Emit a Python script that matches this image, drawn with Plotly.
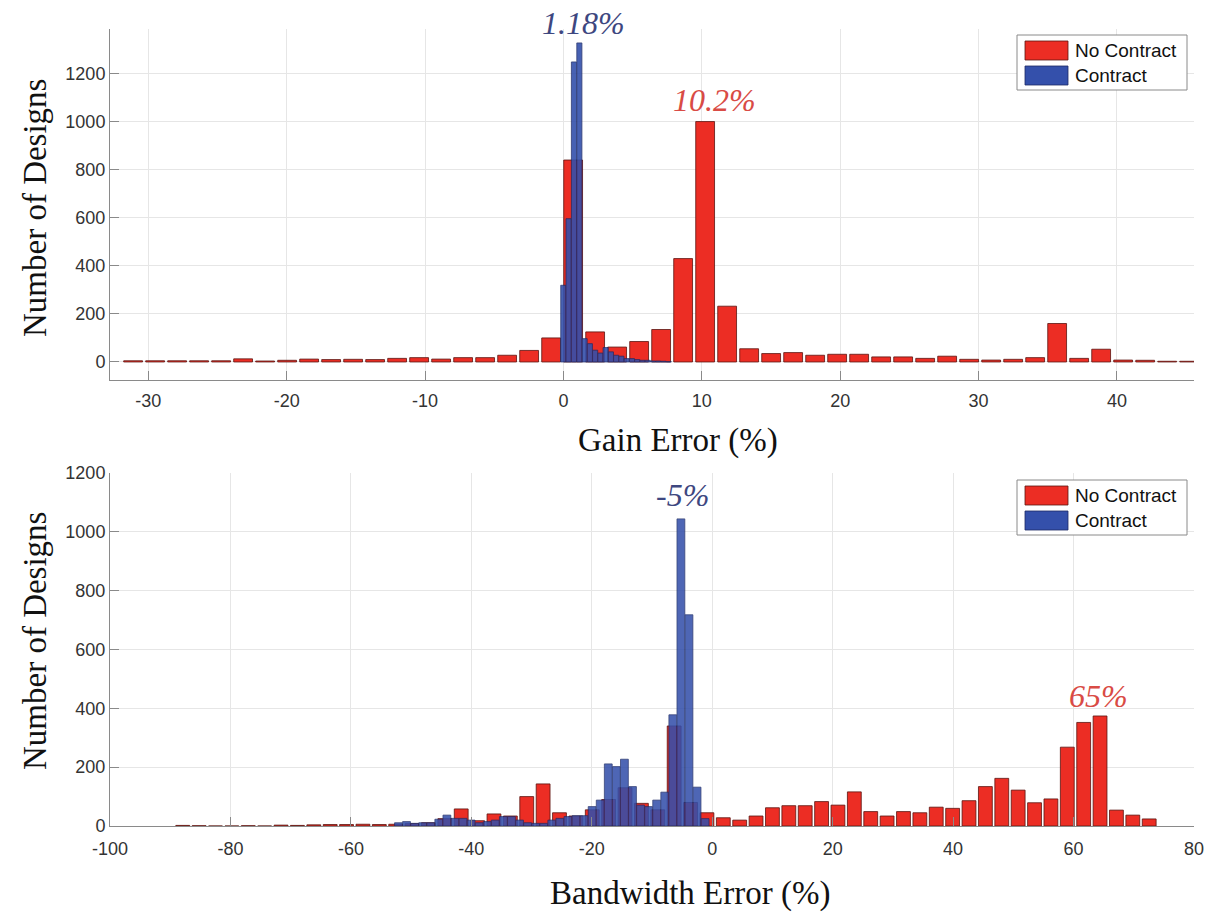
import plotly.graph_objects as go

# ---------------- data ----------------
gain_bins_no_contract = [-31.10, -29.51, -27.92, -26.33, -24.74, -23.15, -21.56, -19.97, -18.38, -16.79,
                         -15.20, -13.61, -12.02, -10.43, -8.84, -7.25, -5.66, -4.07, -2.48, -0.89,
                         0.70, 2.29, 3.88, 5.47, 7.06, 8.65, 10.24, 11.83, 13.42, 15.01,
                         16.60, 18.19, 19.78, 21.37, 22.96, 24.55, 26.14, 27.73, 29.32, 30.91,
                         32.50, 34.09, 35.68, 37.27, 38.86, 40.45, 42.04, 43.63, 45.22]
gain_counts_no_contract = [5, 5, 5, 5, 5, 13, 4, 7, 12, 10,
                           11, 10, 15, 18, 12, 18, 18, 28, 48, 100,
                           840, 125, 62, 85, 135, 430, 1000, 232, 55, 35,
                           39, 28, 32, 32, 21, 21, 15, 24, 11, 8,
                           11, 18, 160, 15, 53, 8, 7, 3, 3]

gain_bins_contract = [-0.01, 0.37, 0.76, 1.15, 1.53, 1.91, 2.29, 2.67, 3.05, 3.43,
                      3.81, 4.19, 4.57, 4.95, 5.33, 5.71, 6.09, 6.47, 6.85, 7.23, 7.61]
gain_counts_contract = [319, 596, 1248, 1327, 97, 76, 49, 37, 60, 42,
                        28, 24, 14, 14, 10, 7, 7, 4, 4, 3, 1]

bw_bins_no_contract = [-87.92, -85.20, -82.48, -79.76, -77.04, -74.32, -71.60, -68.88, -66.16, -63.44,
                       -60.72, -58.00, -55.28, -52.56, -49.84, -47.12, -44.40, -41.68, -38.96, -36.24,
                       -33.52, -30.80, -28.08, -25.36, -22.64, -19.92, -17.20, -14.48, -11.76, -9.04,
                       -6.32, -3.60, -0.88, 1.84, 4.56, 7.28, 10.00, 12.72, 15.44, 18.16,
                       20.88, 23.60, 26.32, 29.04, 31.76, 34.48, 37.20, 39.92, 42.64, 45.36,
                       48.08, 50.80, 53.52, 56.24, 58.96, 61.68, 64.40, 67.12, 69.84, 72.56]
bw_counts_no_contract = [2, 1, 0, 0, 1, 0, 3, 2, 4, 5,
                         5, 6, 5, 6, 8, 11, 25, 58, 18, 41,
                         34, 100, 143, 45, 34, 55, 90, 130, 77, 55,
                         340, 80, 45, 28, 20, 34, 62, 69, 69, 83,
                         71, 116, 49, 34, 49, 45, 64, 60, 86, 134,
                         162, 122, 79, 92, 268, 352, 374, 54, 37, 24]

bw_bins_contract = [-52.10, -50.76, -49.42, -48.08, -46.74, -45.40, -44.06, -42.72, -41.38, -40.04,
                    -38.70, -37.36, -36.02, -34.68, -33.34, -32.00, -30.66, -29.32, -27.98, -26.64,
                    -25.30, -23.96, -22.62, -21.28, -19.94, -18.60, -17.26, -15.92, -14.58, -13.24,
                    -11.90, -10.56, -9.22, -7.88, -6.54, -5.20, -3.86, -2.52, -1.18]
bw_counts_contract = [11, 15, 9, 11, 11, 23, 37, 26, 26, 20,
                      11, 15, 20, 32, 32, 20, 11, 9, 9, 20,
                      26, 32, 35, 35, 66, 88, 211, 202, 227, 134,
                      71, 66, 88, 115, 378, 1044, 718, 132, 25]

gain_ticks = [-30, -20, -10, 0, 10, 20, 30, 40]
gain_tick_labels = ["-30", "-20", "-10", "0", "10", "20", "30", "40"]
bw_ticks = [-100, -80, -60, -40, -20, 0, 20, 40, 60, 80]
bw_tick_labels = ["-100", "-80", "-60", "-40", "-20", "0", "20", "40", "60", "80"]
count_ticks = [0, 200, 400, 600, 800, 1000, 1200]

series_names = ["No Contract", "Contract"]
peak_labels_gain = ["1.18%", "10.2%"]
peak_labels_bw = ["-5%", "65%"]

# ---------------- styling ----------------
W, H = 1205, 914
ML, MR, MT, MB = 110, 11, 29, 88
RED = "#ec2d24"
RED_EDGE = "#5a1410"
BLUE = "#3450ab"
BLUE_EDGE = "#1c2a66"
SERIF = "Liberation Serif, Times New Roman, serif"
SANS = "Liberation Sans, Arial, sans-serif"


def fx(px):
    return (px - ML) / (W - ML - MR)


def fy(py):
    return (H - MB - py) / (H - MT - MB)


fig = go.Figure()

fig.add_trace(go.Bar(x=gain_bins_no_contract, y=gain_counts_no_contract, width=1.36,
                     marker=dict(color=RED, line=dict(color=RED_EDGE, width=0.8)),
                     name=series_names[0], xaxis="x", yaxis="y", showlegend=False))
fig.add_trace(go.Bar(x=gain_bins_contract, y=gain_counts_contract, width=0.37,
                     marker=dict(color=BLUE, line=dict(color=BLUE_EDGE, width=0.8)),
                     opacity=0.9, name=series_names[1], xaxis="x", yaxis="y", showlegend=False))
fig.add_trace(go.Bar(x=bw_bins_no_contract, y=bw_counts_no_contract, width=2.3,
                     marker=dict(color=RED, line=dict(color=RED_EDGE, width=0.8)),
                     name=series_names[0], xaxis="x2", yaxis="y2", showlegend=False))
fig.add_trace(go.Bar(x=bw_bins_contract, y=bw_counts_contract, width=1.3,
                     marker=dict(color=BLUE, line=dict(color=BLUE_EDGE, width=0.8)),
                     opacity=0.87, name=series_names[1], xaxis="x2", yaxis="y2", showlegend=False))

axis_common = dict(showgrid=True, gridcolor="#e6e6e6", gridwidth=1, zeroline=False, automargin=False,
                   showline=True, linecolor="#8a8a8a", linewidth=1, ticks="inside",
                   ticklen=9, tickcolor="#8a8a8a", tickfont=dict(family=SANS, size=18, color="#333333"))

top_dom = [fy(380), 1.0]
bot_dom = [0.0, fy(473)]

fig.update_layout(
    width=W, height=H,
    margin=dict(l=ML, r=MR, t=MT, b=MB, autoexpand=False),
    paper_bgcolor="white", plot_bgcolor="white",
    barmode="overlay",
    xaxis=dict(domain=[0, 1], anchor="y", range=[-32.77, 45.57], tickvals=gain_ticks,
               ticktext=gain_tick_labels, ticklabelstandoff=4, **axis_common),
    yaxis=dict(domain=top_dom, anchor="x", range=[-75, 1385], tickvals=count_ticks, **axis_common),
    xaxis2=dict(domain=[0, 1], anchor="y2", range=[-100, 80], tickvals=bw_ticks,
                ticktext=bw_tick_labels, ticklabelstandoff=6, **axis_common),
    yaxis2=dict(domain=bot_dom, anchor="x2", range=[0, 1200], tickvals=count_ticks, **axis_common),
)

annotations = []


def label(text, x, y, size, color, family=SERIF, xref="paper", angle=0, xanchor="center"):
    annotations.append(dict(text=text, xref=xref, yref="paper", x=x, y=y, textangle=angle,
                            xanchor=xanchor, yanchor="middle", showarrow=False,
                            font=dict(family=family, size=size, color=color)))


# axis titles
label("Number of Designs", fx(35), fy(208), 33, "#111111", angle=-90)
label("Number of Designs", fx(35), fy(641), 33, "#111111", angle=-90)
label("Gain Error (%)", fx(678), fy(440), 33, "#111111")
label("Bandwidth Error (%)", fx(690), fy(893), 33, "#111111")
# peak labels
label("<i>%s</i>" % peak_labels_gain[0], 1.42, fy(23), 32, "#3e4780", xref="x")
label("<i>%s</i>" % peak_labels_gain[1], 10.89, fy(100), 32, "#d94b45", xref="x")
label("<i>%s</i>" % peak_labels_bw[0], -4.9, fy(495), 32, "#3e4780", xref="x2")
label("<i>%s</i>" % peak_labels_bw[1], 64.2, fy(696), 32, "#d94b45", xref="x2")

shapes = []
# legends (box, swatches, labels) for both panels
for box_top in (35, 480):
    shapes.append(dict(type="rect", xref="paper", yref="paper",
                       x0=fx(1017), x1=fx(1187), y0=fy(box_top), y1=fy(box_top + 55),
                       line=dict(color="#8a8a8a", width=1), fillcolor="white", layer="above"))
    for i, (col, edge) in enumerate([(RED, RED_EDGE), (BLUE, BLUE_EDGE)]):
        sy = box_top + 6 + i * 25
        shapes.append(dict(type="rect", xref="paper", yref="paper",
                           x0=fx(1025), x1=fx(1068), y0=fy(sy), y1=fy(sy + 19),
                           line=dict(color=edge, width=0.8), fillcolor=col, layer="above"))
        label(series_names[i], fx(1073), fy(sy + 9.5), 19, "#111111", family=SANS, xanchor="left")

fig.update_layout(annotations=annotations, shapes=shapes)

fig.write_html("out.html", config={"displayModeBar": False},
               post_script="document.body.style.margin='0';document.body.style.padding='0';"
                           "document.body.style.overflow='hidden';")
